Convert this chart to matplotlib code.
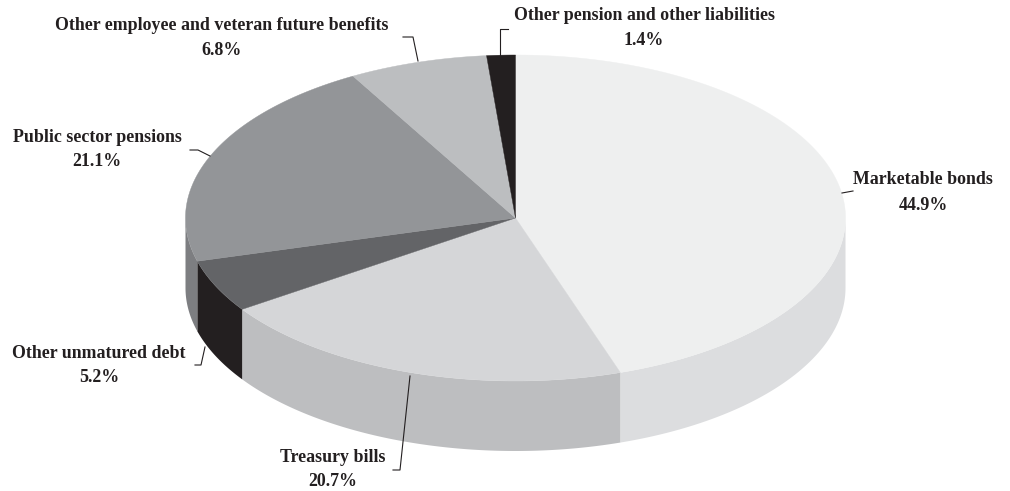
import numpy as np
import matplotlib

matplotlib.use("Agg")
import matplotlib.pyplot as plt
from matplotlib.patches import Polygon

# liability shares, in percent, clockwise from 12 o'clock
categories = [
    "Marketable bonds",
    "Treasury bills",
    "Other unmatured debt",
    "Public sector pensions",
    "Other employee and veteran future benefits",
    "Other pension and other liabilities",
]
shares = [44.9, 20.7, 5.2, 21.1, 6.8, 1.4]

top_colors = ["#eeefef", "#d5d6d8", "#636467", "#939598", "#bcbec0", "#231f20"]
side_colors = ["#dcdddf", "#bdbec0", "#231f20", "#7d7e81", "#a7a9ac", "#231f20"]

# pie geometry in pixel space
CX, CY = 515.5, 218.0
RX, RY = 330.0, 163.0
DEPTH = 70.0

# label centre (x, y of first line) and leader line points
label_pos = [
    (923, 180),
    (333, 457),
    (99, 353),
    (97, 137),
    (222, 25),
    (644, 15),
]
leaders = [
    [(842, 193), (853, 191)],
    [(393, 470), (400, 470), (410, 376)],
    [(195, 365), (201, 365), (205, 347)],
    [(190, 150), (198, 150), (210, 156)],
    [(403, 37), (413, 37), (418, 61)],
    [(508, 29), (500, 29), (500, 55)],
]


def ellipse_pts(t0, t1, dy=0.0, n=200):
    t = np.radians(np.linspace(t0, t1, n))
    return np.column_stack([CX + RX * np.sin(t), CY - RY * np.cos(t) + dy])


fig = plt.figure(figsize=(10.10, 4.91), dpi=100)
ax = fig.add_axes([0, 0, 1, 1])
ax.set_xlim(0, 1010)
ax.set_ylim(491, 0)
ax.axis("off")

total = sum(shares)
bounds = np.concatenate([[0], np.cumsum(shares) / total * 360])

# side walls: only the front half (90..270 deg) is visible
for i in range(len(shares)):
    a0, a1 = max(bounds[i], 90), min(bounds[i + 1], 270)
    if a1 <= a0:
        continue
    upper = ellipse_pts(a0, a1)
    lower = ellipse_pts(a1, a0, dy=DEPTH)
    ax.add_patch(Polygon(np.vstack([upper, lower]), closed=True,
                         facecolor=side_colors[i], edgecolor="none"))

# top faces
for i in range(len(shares)):
    arc = ellipse_pts(bounds[i], bounds[i + 1])
    pts = np.vstack([[CX, CY], arc])
    ax.add_patch(Polygon(pts, closed=True, facecolor=top_colors[i],
                         edgecolor=top_colors[i], linewidth=0.3))

font = dict(family="Liberation Serif", weight="bold", fontsize=12.9,
            color="#231f20")
for name, val, (lx, ly), line in zip(categories, shares, label_pos, leaders):
    ax.text(lx, ly, name, ha="center", va="center", **font)
    ax.text(lx, ly + 25, f"{val:.1f}%", ha="center", va="center", **font)
    xs, ys = zip(*line)
    ax.plot(xs, ys, color="#231f20", linewidth=0.8)

fig.savefig("out.png", dpi=100, facecolor="white")
